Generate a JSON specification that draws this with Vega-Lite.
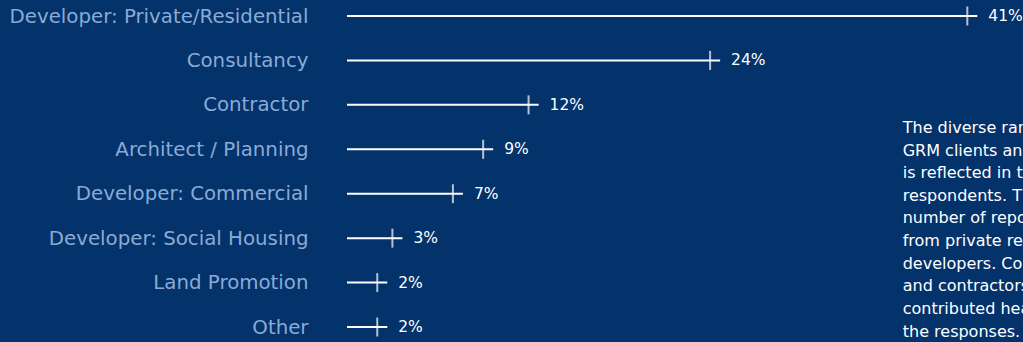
{
  "$schema": "https://vega.github.io/schema/vega-lite/v6.json",
  "autosize": {"type": "none"},
  "padding": {"left": 347, "top": 16, "right": 0, "bottom": 15},
  "width": 676,
  "height": 311,
  "background": "#04326a",
  "config": {"view": {"stroke": null}, "font": "DejaVu Sans"},
  "datasets": {
    "bars": [
      {"category": "Developer: Private/Residential", "share": 0.41},
      {"category": "Consultancy", "share": 0.24},
      {"category": "Contractor", "share": 0.12},
      {"category": "Architect / Planning", "share": 0.09},
      {"category": "Developer: Commercial", "share": 0.07},
      {"category": "Developer: Social Housing", "share": 0.03},
      {"category": "Land Promotion", "share": 0.02},
      {"category": "Other", "share": 0.02}
    ],
    "note": [
      {"i": 0, "line": "The diverse range of"},
      {"i": 1, "line": "GRM clients and partners"},
      {"i": 2, "line": "is reflected in the"},
      {"i": 3, "line": "respondents. The largest"},
      {"i": 4, "line": "number of reponses came"},
      {"i": 5, "line": "from private residential"},
      {"i": 6, "line": "developers. Consultancies"},
      {"i": 7, "line": "and contractors also"},
      {"i": 8, "line": "contributed heavily to"},
      {"i": 9, "line": "the responses."}
    ]
  },
  "layer": [
    {
      "data": {"name": "bars"},
      "encoding": {
        "y": {
          "field": "category",
          "type": "nominal",
          "sort": null,
          "scale": {"type": "point", "padding": 0},
          "axis": {
            "title": null,
            "domain": false,
            "ticks": false,
            "labelPadding": 39,
            "labelFontSize": 19.8,
            "labelFontWeight": "normal",
            "labelLimit": 0,
            "labelColor": "#8aabd6",
            "labelFont": "DejaVu Sans",
            "labelBaseline": "middle"
          }
        },
        "x": {
          "field": "share",
          "type": "quantitative",
          "scale": {"domain": [0, 0.4468], "nice": false, "zero": true},
          "axis": null
        }
      },
      "layer": [
        {
          "mark": {"type": "rule", "color": "#ffffff", "strokeWidth": 2, "x2Offset": 10},
          "encoding": {
            "x": {"datum": 0},
            "x2": {"field": "share"}
          }
        },
        {
          "mark": {"type": "tick", "color": "#ffffff", "thickness": 2, "size": 19, "orient": "vertical"}
        },
        {
          "mark": {"type": "text", "color": "#ffffff", "align": "left", "baseline": "middle", "dx": 21, "fontSize": 15.5, "font": "DejaVu Sans"},
          "encoding": {"text": {"field": "share", "type": "quantitative", "format": ".0%"}}
        }
      ]
    },
    {
      "data": {"name": "note"},
      "mark": {"type": "text", "color": "#ffffff", "align": "left", "baseline": "middle", "fontSize": 16, "font": "DejaVu Sans"},
      "encoding": {
        "x": {"datum": 0.3673, "type": "quantitative"},
        "y": {
          "field": "i",
          "type": "quantitative",
          "scale": {"domain": [-4.956, 8.8], "reverse": true, "nice": false, "zero": false},
          "axis": null
        },
        "text": {"field": "line"}
      }
    }
  ],
  "resolve": {"scale": {"y": "independent"}}
}
